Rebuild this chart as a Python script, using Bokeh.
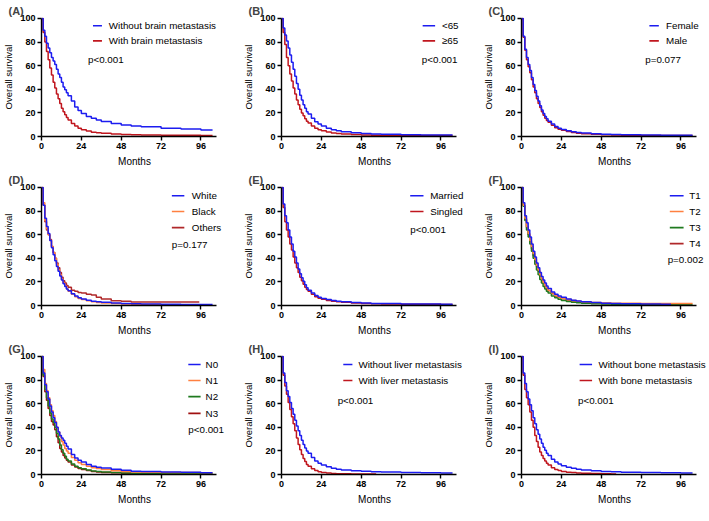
from bokeh.plotting import figure
from bokeh.models import Range1d, FixedTicker, Label
from bokeh.layouts import column, row
from bokeh.embed import file_html
from bokeh.resources import INLINE

# ---------------- data ----------------
MONTHS = [0, 1, 2, 3, 4, 5, 6, 7, 8, 9, 10, 11, 12, 13, 14, 15, 16, 18, 20, 22, 24,
          27, 30, 33, 36, 42, 48, 54, 60, 72, 84, 96]
X_TICKS = [0, 24, 48, 72, 96]
Y_TICKS = [0, 20, 40, 60, 80, 100]

A_WITHOUT_BRAIN = [100, 90, 85, 79, 75, 71, 67, 64, 61, 57, 53, 50, 46, 42, 39.5, 37, 34.5, 30, 25, 22, 19.5,
                   17, 15.5, 14, 12.8, 11, 9.8, 9, 8.3, 7, 6.3, 5.6]
A_WITH_BRAIN = [100, 88, 80, 72, 65, 58, 52, 46, 41, 36, 32, 28, 24, 21, 18.5, 16, 14, 11, 9, 7, 5.8,
                4.6, 3.7, 3.1, 2.7, 2.2, 1.8, 1.5, 1.3, 1.1, 1.0, 0.9]
B_LT65 = [100, 92, 86, 81, 75, 69, 63, 57, 51, 45, 40, 35, 31, 27, 24, 21, 19, 15.5, 12.5, 10.5, 8.8,
          7, 5.8, 4.8, 4, 3.2, 2.6, 2.2, 1.9, 1.5, 1.3, 1.2]
B_GE65 = [100, 88, 78, 67, 60, 53, 47, 41, 36, 31, 27, 23, 20, 17.5, 15, 13, 11.5, 9, 7, 5.8, 4.8,
          3.8, 3, 2.5, 2.1, 1.6, 1.3, 1.1, 1.0, 0.9, 0.8, 0.8]
C_FEMALE = [100, 85, 74, 67, 61, 56, 50, 44, 39, 34, 30, 26, 22.5, 19.5, 17, 15, 13, 10.5, 8.5, 7, 6,
            4.8, 4, 3.4, 2.9, 2.3, 1.9, 1.6, 1.4, 1.2, 1.1, 1.0]
C_MALE = [100, 84, 73, 65, 59, 54, 48, 42, 37, 32, 28, 24.5, 21, 18, 15.5, 13.5, 12, 9.5, 7.5, 6.2, 5.2,
          4.2, 3.4, 2.8, 2.4, 1.9, 1.5, 1.3, 1.1, 0.9, 0.8, 0.8]
D_WHITE = [100, 85, 74, 67, 61, 55, 49, 43, 38, 33, 29, 25, 21.5, 18.5, 16, 14, 12.5, 10, 8, 6.5, 5.5,
           4.5, 3.7, 3.1, 2.7, 2.1, 1.7, 1.4, 1.2, 1.0, 0.9, 0.8]
D_BLACK = [100, 87, 72, 65, 60, 55, 50, 45, 40, 35, 30, 26, 22, 19, 16.5, 14, 12, 9.5, 7.5, 6, 5,
           4, 3.2, 2.6, 2.2, 1.7, 1.3, 1.0, 0.8, 0.6, 0.5]
D_OTHERS = [100, 85, 71, 64, 60, 56, 50, 45, 40, 36, 32, 28, 24, 21, 19, 17, 15.5, 13, 12, 11, 10.5,
            9.5, 9, 7, 5.5, 4, 3.5, 3, 3, 3, 3]
E_MARRIED = [100, 86, 76, 70, 64, 58, 52, 46, 41, 36, 31, 27, 23.5, 20.5, 17.5, 15, 13, 10.5, 8.5, 7, 6,
             5, 4.2, 3.6, 3.1, 2.5, 2.1, 1.8, 1.6, 1.3, 1.2, 1.1]
E_SINGLED = [100, 83, 71, 64, 58, 52, 47, 41, 36, 32, 28, 24, 21, 18, 15.5, 13.5, 12, 9.5, 7.5, 6.2, 5.2,
             4.3, 3.6, 3.1, 2.7, 2.2, 1.8, 1.5, 1.3, 1.1, 1.0, 0.9]
F_T1 = [100, 87, 76, 70, 64, 58, 52, 46, 41, 36, 32, 28, 24.5, 21.5, 19, 16.5, 14.5, 11.5, 9.5, 8, 7,
        5.5, 4.5, 3.8, 3.2, 2.5, 2, 1.7, 1.5, 1.2, 1.1]
F_T2 = [100, 85, 74, 67, 61, 55, 50, 44, 39, 34, 30, 26, 22.5, 19.5, 17, 15, 13, 10.5, 8.5, 7.2, 6.2,
        5, 4.2, 3.6, 3.1, 2.6, 2.2, 2, 1.9, 1.8, 1.8, 1.6]
F_T3 = [100, 84, 72, 64, 58, 52, 46, 40, 35, 30, 26, 22, 19, 16, 14, 12, 10.5, 8, 6.5, 5.2, 4.3,
        3.4, 2.8, 2.3, 2, 1.5, 1.2, 1, 0.9, 0.8, 0.8, 0.8]
F_T4 = [100, 85, 73, 66, 60, 54, 48, 42, 37, 33, 29, 25, 22, 19, 16.5, 14.5, 12.5, 10, 8, 6.8, 5.8,
        4.7, 3.9, 3.2, 2.7, 2.1, 1.7, 1.4, 1.2, 1.0, 1.0, 1.0]
G_N0 = [100, 86, 76, 70, 64, 58, 53, 48, 44, 40, 36, 33, 31, 29, 26.5, 24, 21.5, 17, 14, 12, 10.5,
        8.5, 7, 6.2, 5.5, 4.5, 3.5, 2.8, 2.5, 2.2, 2.0, 1.5]
G_N1 = [100, 89, 77, 71, 65, 59, 54, 50, 45, 40, 36, 32, 28, 25, 22, 20, 18, 14.5, 12, 10, 8.5,
        7, 5.8, 5, 4.2, 3.2, 2.6, 2.2, 2, 1.8, 1.6, 1.5]
G_N2 = [100, 84, 72, 65, 58, 52, 47, 44, 40, 35, 30, 25, 21, 18, 15.5, 13, 11.5, 9, 7, 5.8, 4.8,
        3.8, 3, 2.5, 2.1, 1.6, 1.2, 1.0, 0.8, 0.7, 0.7, 0.7]
G_N3 = [100, 83, 70, 63, 56, 50, 45, 42, 38, 32, 27, 22, 19, 16, 14, 12, 10.5, 8, 6.3, 5, 4.2,
        3.3, 2.6, 2.1, 1.8, 1.4, 1.1, 0.9, 0.8, 0.7, 0.7, 0.7]
H_WITHOUT_LIVER = [100, 86, 78, 71, 66, 61, 56, 51, 46, 41, 37, 33, 29, 25.5, 22.5, 20, 18, 14.5, 11.5, 9.5, 8,
                   6.5, 5.3, 4.5, 3.9, 3.2, 2.7, 2.4, 2.1, 1.8, 1.5, 1.3]
H_WITH_LIVER = [100, 84, 75, 68, 61, 55, 49, 43, 37, 31, 25.5, 21, 17, 13.5, 11, 8.5, 7, 4.8, 3.3, 2.3, 1.7,
                1.2, 0.9, 0.7, 0.6, 0.5, 0.4, 0.4]
I_WITHOUT_BONE = [100, 86, 77, 70, 64, 59, 54, 48, 43, 38, 34, 30, 26.5, 23, 20.5, 18, 16, 13, 10.5, 8.8, 7.5,
                  6.2, 5.2, 4.4, 3.8, 3.1, 2.6, 2.3, 2, 1.7, 1.5, 1.3]
I_WITH_BONE = [100, 84, 72, 65, 59, 53, 46, 40, 33, 28, 23, 19, 16, 13.5, 11.5, 9.5, 8, 5.8, 4.3, 3.3, 2.6,
               2, 1.6, 1.3, 1.1, 0.8, 0.6, 0.5]

# last follow-up month of each curve
END = {"A0": 103, "A1": 103, "B0": 103, "B1": 103, "C0": 103, "C1": 103,
       "D0": 103, "D1": 90, "D2": 95, "E0": 103, "E1": 103,
       "F0": 90, "F1": 103, "F2": 103, "F3": 97,
       "G0": 103, "G1": 103, "G2": 103, "G3": 100,
       "H0": 103, "H1": 57, "I0": 103, "I1": 57}

BLUE = "#1c1cf0"
RED = "#c0161e"
ORANGE = "#ff8040"
GREEN = "#1f7a1f"
BROWN = "#b0282a"
FONT = "Liberation Sans"

PANELS = [
    ("A", [("Without brain metastasis", A_WITHOUT_BRAIN, BLUE), ("With brain metastasis", A_WITH_BRAIN, RED)],
     "p<0.001", dict(sw=(31, 36.4), tx=40.5, ys=[93.8, 81], pv=(28, 65))),
    ("B", [("<65", B_LT65, BLUE), ("\u226565", B_GE65, RED)],
     "p<0.001", dict(sw=(85, 92.5), tx=96.6, ys=[93.8, 81], pv=(84.5, 65))),
    ("C", [("Female", C_FEMALE, BLUE), ("Male", C_MALE, RED)],
     "p=0.077", dict(sw=(77, 82.7), tx=87, ys=[93.8, 81], pv=(74.5, 65))),
    ("D", [("White", D_WHITE, BLUE), ("Black", D_BLACK, ORANGE), ("Others", D_OTHERS, BROWN)],
     "p=0.177", dict(sw=(78.5, 86), tx=90.5, ys=[93, 79.6, 66], pv=(78.5, 51.8))),
    ("E", [("Married", E_MARRIED, BLUE), ("Singled", E_SINGLED, RED)],
     "p<0.001", dict(sw=(77.5, 85.5), tx=89.5, ys=[93, 79.6], pv=(77.5, 64.6))),
    ("F", [("T1", F_T1, BLUE), ("T2", F_T2, ORANGE), ("T3", F_T3, GREEN), ("T4", F_T4, BROWN)],
     "p=0.002", dict(sw=(89.3, 97.6), tx=101, ys=[93, 79.6, 66, 52.4], pv=(88, 39))),
    ("G", [("N0", G_N0, BLUE), ("N1", G_N1, ORANGE), ("N2", G_N2, GREEN), ("N3", G_N3, "#a01010")],
     "p<0.001", dict(sw=(88.4, 95.8), tx=98.8, ys=[93.2, 79.6, 66, 51.8], pv=(88.4, 38))),
    ("H", [("Without liver metastasis", H_WITHOUT_LIVER, BLUE), ("With liver metastasis", H_WITH_LIVER, RED)],
     "p<0.001", dict(sw=(37.2, 42.7), tx=46.3, ys=[93.2, 79.6], pv=(33.8, 62.6))),
    ("I", [("Without bone metastasis", I_WITHOUT_BONE, BLUE), ("With bone metastasis", I_WITH_BONE, RED)],
     "p<0.001", dict(sw=(35, 42.5), tx=46.3, ys=[93.2, 79.6], pv=(34, 62.6))),
]


def make_panel(letter, series, pval, leg, right_border):
    p = figure(frame_width=186, frame_height=119,
               x_range=Range1d(0, 112), y_range=Range1d(0, 100.8),
               output_backend="svg", toolbar_location=None,
               min_border_left=36, min_border_right=right_border,
               min_border_top=17, min_border_bottom=32)
    p.outline_line_color = None
    p.xgrid.visible = False
    p.ygrid.visible = False
    p.title.text = "(" + letter + ")"
    p.title.text_font = FONT
    p.title.text_font_size = "11px"
    p.title.text_font_style = "bold"
    p.title.align = "left"
    p.title.offset = -33
    p.title.standoff = 2
    for ax, ticks in ((p.xaxis, X_TICKS), (p.yaxis, Y_TICKS)):
        ax.ticker = FixedTicker(ticks=ticks)
        ax.axis_line_width = 1.4
        ax.axis_line_color = "black"
        ax.major_tick_line_width = 1.4
        ax.major_tick_out = 4
        ax.major_tick_in = 0
        ax.minor_tick_line_color = None
        ax.major_label_text_font = FONT
        ax.major_label_text_font_size = "9px"
        ax.major_label_text_font_style = "bold"
        ax.major_label_text_color = "black"
        ax.major_label_standoff = 2
        ax.axis_label_text_font = FONT
        ax.axis_label_text_font_style = "normal"
        ax.axis_label_text_color = "black"
    p.xaxis.bounds = (0, 105.5)
    p.yaxis.bounds = (0, 100)
    p.xaxis.axis_label = "Months"
    p.xaxis.axis_label_text_font_size = "10px"
    p.xaxis.axis_label_standoff = 4
    p.yaxis.axis_label = "Overall survival"
    p.yaxis.axis_label_text_font_size = "9.5px"
    p.yaxis.axis_label_standoff = 3

    for k in reversed(range(len(series))):
        name, surv, color = series[k]
        n = len(surv)
        xs = MONTHS[:n] + [END[letter + str(k)]]
        ys = list(surv) + [surv[-1]]
        p.step(xs, ys, mode="after", line_color=color, line_width=1.5)

    for k, (name, surv, color) in enumerate(series):
        y = leg["ys"][k]
        p.segment(x0=[leg["sw"][0]], y0=[y], x1=[leg["sw"][1]], y1=[y],
                  line_color=color, line_width=1.6)
        p.add_layout(Label(x=leg["tx"], y=y, text=name, text_font=FONT, text_font_size="9.8px",
                           text_baseline="middle", text_align="left", text_color="black"))
    p.add_layout(Label(x=leg["pv"][0], y=leg["pv"][1], text=pval, text_font=FONT,
                       text_font_size="9.8px", text_baseline="middle", text_color="black"))
    return p


rights = [13, 13, 1]
figs = [make_panel(l, s, pv, lg, rights[i % 3]) for i, (l, s, pv, lg) in enumerate(PANELS)]
layout = column(row(*figs[0:3]), row(*figs[3:6]), row(*figs[6:9]))
open("out.html", "w").write(file_html(layout, INLINE))
